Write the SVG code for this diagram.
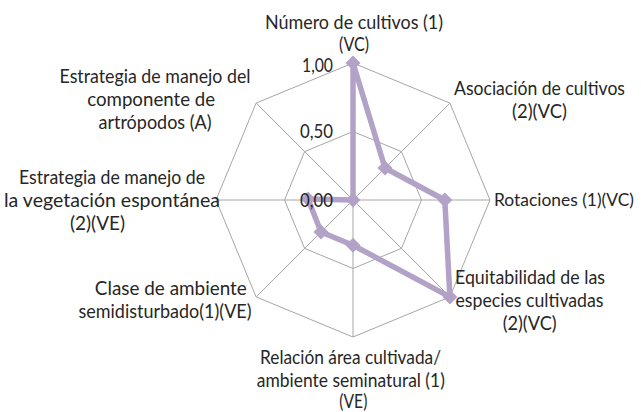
<svg xmlns="http://www.w3.org/2000/svg" width="641" height="412" viewBox="0 0 641 412">
<style>
.lbl{font-family:Lato,"Liberation Sans",sans-serif;font-size:19px;fill:#262626;text-anchor:middle}
.tick{font-family:Lato,"Liberation Sans",sans-serif;font-size:19px;fill:#262626;text-anchor:end}
.grid{fill:none;stroke:#a6a6a6;stroke-width:1}
.series{fill:none;stroke:#b3a2c7;stroke-width:5.5;stroke-linejoin:round}
.mk{fill:#b3a2c7}
</style>
<defs>
<path id="dia" d="M0,-7.5 L7.5,0 L0,7.5 L-7.5,0 Z"/>
</defs>
<rect width="641" height="412" fill="#ffffff"/>
<g id="grid">
<polygon class="grid" points="353,63 449.9,103.1 490,200 449.9,296.9 353,337 256.1,296.9 216,200 256.1,103.1"/>
<polygon class="grid" points="353,131.5 401.4,151.6 421.5,200 401.4,248.4 353,268.5 304.6,248.4 284.5,200 304.6,151.6"/>
<path class="grid" d="M353,200 L353,63 M353,200 L449.9,103.1 M353,200 L490,200 M353,200 L449.9,296.9 M353,200 L353,337 M353,200 L256.1,296.9 M353,200 L216,200 M353,200 L256.1,103.1"/>
</g>
<g id="labels">
<g id="n1"><text class="lbl" x="354" y="29" textLength="178" lengthAdjust="spacingAndGlyphs">Número de cultivos (1)</text><text class="lbl" x="354" y="51" textLength="30" lengthAdjust="spacingAndGlyphs">(VC)</text></g>
<g id="n2"><text class="lbl" x="539.5" y="95" textLength="171" lengthAdjust="spacingAndGlyphs">Asociación de cultivos</text><text class="lbl" x="539.5" y="118" textLength="55" lengthAdjust="spacingAndGlyphs">(2)(VC)</text></g>
<g id="n3"><text class="lbl" x="564" y="206" textLength="140" lengthAdjust="spacingAndGlyphs" style="font-size:17.5px">Rotaciones (1)(VC)</text></g>
<g id="n4"><text class="lbl" x="530" y="283.5" textLength="150" lengthAdjust="spacingAndGlyphs">Equitabilidad de las</text><text class="lbl" x="529.5" y="306.5" textLength="148" lengthAdjust="spacingAndGlyphs">especies cultivadas</text><text class="lbl" x="529.7" y="330" textLength="54" lengthAdjust="spacingAndGlyphs">(2)(VC)</text></g>
<g id="n5"><text class="lbl" x="350.5" y="363.5" textLength="181" lengthAdjust="spacingAndGlyphs">Relación área cultivada/</text><text class="lbl" x="350.8" y="386.5" textLength="188" lengthAdjust="spacingAndGlyphs">ambiente seminatural (1)</text><text class="lbl" x="353.3" y="408" textLength="28" lengthAdjust="spacingAndGlyphs">(VE)</text></g>
<g id="n6"><text class="lbl" x="170.8" y="295" textLength="152" lengthAdjust="spacingAndGlyphs">Clase de ambiente</text><text class="lbl" x="165" y="318.3" textLength="173" lengthAdjust="spacingAndGlyphs">semidisturbado(1)(VE)</text></g>
<g id="n7"><text class="lbl" x="112" y="183.5" textLength="186" lengthAdjust="spacingAndGlyphs">Estrategia de manejo de</text><text class="lbl" x="112" y="206.5" textLength="216" lengthAdjust="spacingAndGlyphs">la vegetación espontánea</text><text class="lbl" x="97.5" y="230" textLength="55" lengthAdjust="spacingAndGlyphs">(2)(VE)</text></g>
<g id="n8"><text class="lbl" x="155" y="83" textLength="191" lengthAdjust="spacingAndGlyphs">Estrategia de manejo del</text><text class="lbl" x="151.2" y="106" textLength="128" lengthAdjust="spacingAndGlyphs">componente de</text><text class="lbl" x="155" y="129" textLength="113" lengthAdjust="spacingAndGlyphs">artrópodos (A)</text></g>
</g>
<g id="series">
<polygon class="series" points="353,63 385,168 444.8,200 449.9,296.9 353,245.2 321,232 308,199 353,200"/>
<use href="#dia" class="mk" x="353" y="63"/>
<use href="#dia" class="mk" x="385" y="168"/>
<use href="#dia" class="mk" x="444.8" y="200"/>
<use href="#dia" class="mk" x="449.9" y="296.9"/>
<use href="#dia" class="mk" x="353" y="245.2"/>
<use href="#dia" class="mk" x="321" y="232"/>
<use href="#dia" class="mk" x="308" y="199"/>
<use href="#dia" class="mk" x="353" y="200"/>
</g>
<g id="ticks">
<text class="tick" x="333" y="72" textLength="31" lengthAdjust="spacingAndGlyphs">1,00</text>
<text class="tick" x="333" y="138" textLength="33" lengthAdjust="spacingAndGlyphs">0,50</text>
<text class="tick" x="333" y="207" textLength="33" lengthAdjust="spacingAndGlyphs">0,00</text>
</g>
</svg>
